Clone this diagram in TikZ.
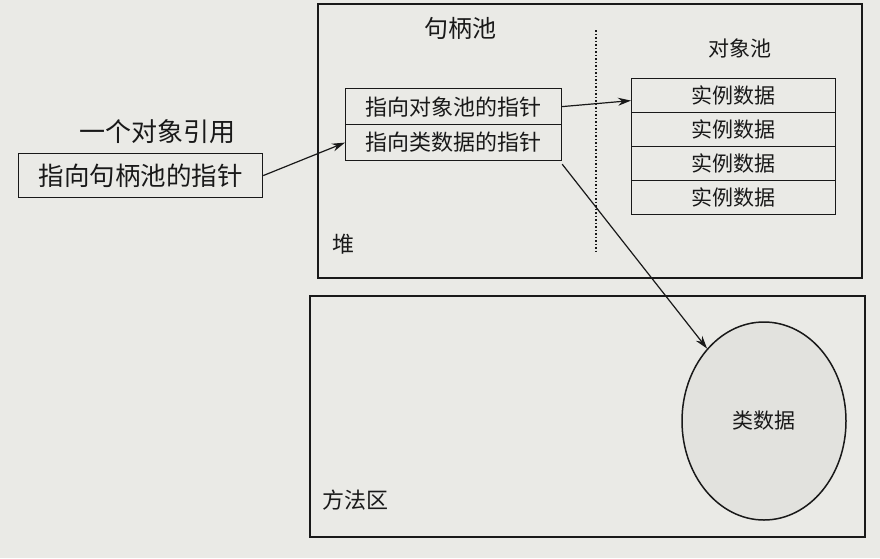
\documentclass[tikz,border=0pt]{standalone}
\usepackage{fontspec}
\newfontfamily\cjk{Noto Sans CJK SC}
\usetikzlibrary{shapes.geometric,arrows.meta,positioning}
\definecolor{paper}{RGB}{234,234,230}
\definecolor{ink}{RGB}{25,25,25}
\definecolor{ovalfill}{RGB}{226,226,222}
\tikzset{
  region/.style={draw=ink,line width=1.4pt},
  cell/.style={draw=ink,line width=1.2pt,minimum height=36pt,inner sep=0pt,font=\cjk\fontsize{22}{24}\selectfont,text=ink},
  lbl/.style={inner sep=0pt,font=\cjk\fontsize{22}{24}\selectfont,text=ink},
  arr/.style={draw=ink,line width=1.2pt,-{Stealth[length=13pt,width=8pt]}}
}
\begin{document}
\begin{tikzpicture}[x=1pt,y=-1pt]
\fill[paper] (0,0) rectangle (880,558);
\useasboundingbox (0,0) rectangle (880,558);
% heap
\draw[region] (318,4) rectangle (862,278);
\node[lbl,anchor=west] (heaplbl) at (332,244) {堆};
\node[lbl,font=\cjk\fontsize{24}{26}\selectfont] (hplbl) at (460,28) {句柄池};
\node[lbl,font=\cjk\fontsize{21}{23}\selectfont] (oplbl) at (740,48) {对象池};
\coordinate (dtop) at (596,30);
\coordinate (dbot) at (596,252);
\draw[ink,line width=1.5pt,dotted] (dtop) -- (dbot);
% handle cells
\node[cell,minimum width=216pt,anchor=north west] (h1) at (345,88) {指向对象池的指针};
\node[cell,minimum width=216pt,anchor=north west] (h2) at (345,124) {指向类数据的指针};
% instance cells
\tikzset{inst/.style={cell,minimum width=204pt,minimum height=34pt,anchor=north west,font=\cjk\fontsize{21}{23}\selectfont}}
\node[inst] (i1) at (631,78) {实例数据};
\node[inst] (i2) at (631,112) {实例数据};
\node[inst] (i3) at (631,146) {实例数据};
\node[inst] (i4) at (631,180) {实例数据};
% reference
\node[lbl,font=\cjk\fontsize{26}{28}\selectfont] (reflbl) at (157,132) {一个对象引用};
\node[cell,minimum width=244pt,minimum height=44pt,anchor=north west,font=\cjk\fontsize{25.5}{27}\selectfont] (ref) at (18,153) {指向句柄池的指针};
% method area
\draw[region] (310,296) rectangle (865,537);
\node[lbl,anchor=west] (malbl) at (322,500) {方法区};
\node[draw=ink,line width=1.5pt,ellipse,fill=ovalfill,minimum width=164pt,minimum height=198pt,inner sep=0pt,lbl,font=\cjk\fontsize{21}{23}\selectfont] (cls) at (764,421) {类数据};
% arrows
\draw[arr] (ref.east) -- (h2.west);
\draw[arr] (h1.east) -- ([yshift=-5pt]i1.west);
\draw[arr] ([yshift=-3pt]h2.south east) -- (cls);
\end{tikzpicture}
\end{document}
